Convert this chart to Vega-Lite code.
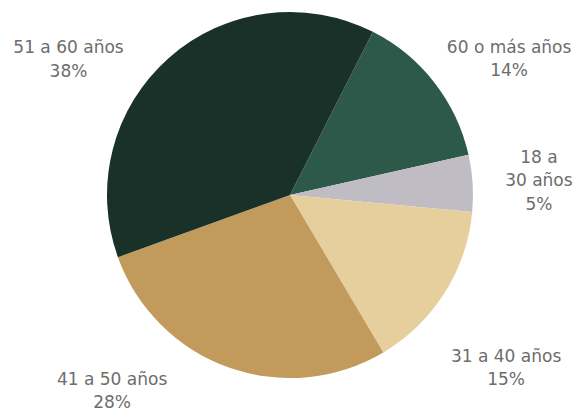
{
  "$schema": "https://vega.github.io/schema/vega-lite/v6.json",
  "width": 580,
  "height": 390,
  "padding": {"left": 0, "top": 0, "right": 4, "bottom": 22},
  "autosize": "none",
  "background": "white",
  "view": {"stroke": null},
  "config": {
    "text": {"font": "DejaVu Sans", "fontSize": 17, "lineHeight": 23.5, "lineBreak": "\n", "color": "#6d6d6d", "align": "center", "baseline": "middle", "radius": 210}
  },
  "data": {
    "values": [
      {"cat": "60 o más años", "value": 14, "order": 1, "label": "60 o más años\n14%"},
      {"cat": "18 a 30 años", "value": 5, "order": 2, "label": "18 a\n30 años\n5%"},
      {"cat": "31 a 40 años", "value": 15, "order": 3, "label": "31 a 40 años\n15%"},
      {"cat": "41 a 50 años", "value": 28, "order": 4, "label": "41 a 50 años\n28%"},
      {"cat": "51 a 60 años", "value": 38, "order": 5, "label": "51 a 60 años\n38%"}
    ]
  },
  "transform": [
    {"stack": "value", "groupby": [], "sort": [{"field": "order", "order": "ascending"}], "as": ["v0", "v1"]}
  ],
  "encoding": {
    "theta": {"field": "v0", "type": "quantitative", "scale": {"domain": [0, 100], "range": [0.47, 6.7532]}},
    "theta2": {"field": "v1"}
  },
  "layer": [
    {
      "mark": {"type": "arc", "outerRadius": 183, "strokeWidth": 0},
      "encoding": {
        "color": {
          "field": "cat",
          "type": "nominal",
          "scale": {
            "domain": ["60 o más años", "18 a 30 años", "31 a 40 años", "41 a 50 años", "51 a 60 años"],
            "range": ["#2d594b", "#bfbcc3", "#e6cf9c", "#c19a5c", "#1a3129"]
          },
          "legend": null
        }
      }
    },
    {
      "transform": [{"filter": "datum.order == 1"}],
      "mark": {"type": "text", "dx": 124, "dy": 40},
      "encoding": {"text": {"field": "label"}}
    },
    {
      "transform": [{"filter": "datum.order == 2"}],
      "mark": {"type": "text", "dx": 44, "dy": 9},
      "encoding": {"text": {"field": "label"}}
    },
    {
      "transform": [{"filter": "datum.order == 3"}],
      "mark": {"type": "text", "dx": 7, "dy": 142},
      "encoding": {"text": {"field": "label"}}
    },
    {
      "transform": [{"filter": "datum.order == 4"}],
      "mark": {"type": "text", "dx": -285, "dy": 4},
      "encoding": {"text": {"field": "label"}}
    },
    {
      "transform": [{"filter": "datum.order == 5"}],
      "mark": {"type": "text", "dx": -24, "dy": -218},
      "encoding": {"text": {"field": "label"}}
    }
  ]
}
